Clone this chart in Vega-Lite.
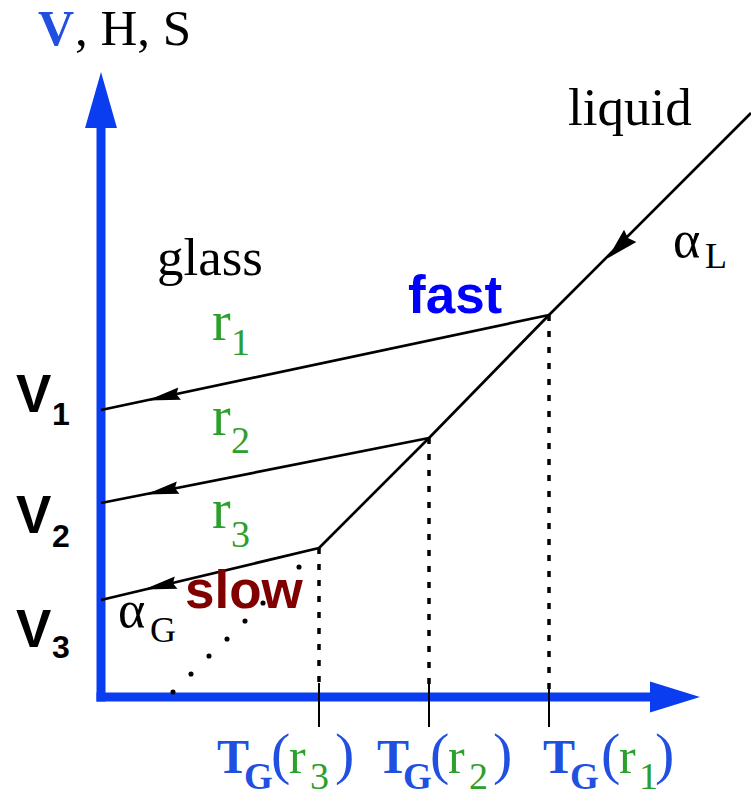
{
  "$schema": "https://vega.github.io/schema/vega-lite/v6.json",
  "width": 751,
  "height": 790,
  "padding": 0,
  "autosize": {"type": "none"},
  "background": "white",
  "config": {"view": {"stroke": null}},
  "encoding": {
    "x": {"field": "T", "type": "quantitative", "scale": {"domain": [-10.1, 65], "nice": false, "zero": false}, "axis": null},
    "y": {"field": "V", "type": "quantitative", "scale": {"domain": [-9.3, 69.7], "nice": false, "zero": false}, "axis": null}
  },
  "layer": [
    {
      "data": {"values": [
        {"axis": "volume", "T": 0, "V": -0.45, "T2": 0, "V2": 57.0},
        {"axis": "temperature", "T": -0.45, "V": 0, "T2": 55.0, "V2": 0}
      ]},
      "mark": {"type": "rule", "color": "#0b3df0", "strokeWidth": 9},
      "encoding": {"x2": {"field": "T2"}, "y2": {"field": "V2"}}
    },
    {
      "data": {"values": [{"axis": "volume", "T": 0, "V": 59.7}]},
      "mark": {"type": "point", "shape": "M 0 -1 L 0.57 1 L -0.57 1 Z", "size": 3136, "filled": true, "opacity": 1, "color": "#0b3df0"}
    },
    {
      "data": {"values": [{"axis": "temperature", "T": 57.4, "V": 0}]},
      "mark": {"type": "point", "shape": "M 1 0 L -1 -0.62 L -1 0.62 Z", "size": 2500, "filled": true, "opacity": 1, "color": "#0b3df0"}
    },
    {
      "data": {"values": [
        {"rate": "r3", "T": 21.8, "V": 1.4, "V2": -3.0},
        {"rate": "r2", "T": 32.8, "V": 1.4, "V2": -3.0},
        {"rate": "r1", "T": 44.8, "V": 1.4, "V2": -3.0}
      ]},
      "mark": {"type": "rule", "color": "black", "strokeWidth": 2},
      "encoding": {"y2": {"field": "V2"}}
    },
    {
      "data": {"values": [
        {"rate": "r3", "T": 21.8, "V": 14.9, "V2": 0.5},
        {"rate": "r2", "T": 32.8, "V": 25.9, "V2": 0.5},
        {"rate": "r1", "T": 44.8, "V": 38.2, "V2": 0.5}
      ]},
      "mark": {"type": "rule", "color": "black", "strokeWidth": 3.5, "strokeDash": [6, 10]},
      "encoding": {"y2": {"field": "V2"}}
    },
    {
      "data": {"values": [
        {"T": 7.2, "V": 0.5}, {"T": 9.0, "V": 2.3}, {"T": 10.8, "V": 4.1}, {"T": 12.6, "V": 5.8},
        {"T": 14.4, "V": 7.6}, {"T": 16.2, "V": 9.4}, {"T": 18.0, "V": 11.2}, {"T": 19.8, "V": 13.0}
      ]},
      "mark": {"type": "point", "shape": "circle", "size": 26, "filled": true, "opacity": 1, "color": "black"}
    },
    {
      "data": {"values": [
        {"path": "liquid", "T": 21.8, "V": 14.9},
        {"path": "liquid", "T": 32.8, "V": 25.9},
        {"path": "liquid", "T": 44.8, "V": 38.2},
        {"path": "liquid", "T": 65.0, "V": 58.4},
        {"path": "r1", "T": 0, "V": 28.7},
        {"path": "r1", "T": 44.8, "V": 38.2},
        {"path": "r2", "T": 0, "V": 19.4},
        {"path": "r2", "T": 32.8, "V": 25.9},
        {"path": "r3", "T": 0, "V": 9.7},
        {"path": "r3", "T": 21.8, "V": 14.9}
      ]},
      "mark": {"type": "line", "color": "black", "strokeWidth": 2.7},
      "encoding": {"detail": {"field": "path", "type": "nominal"}}
    },
    {
      "data": {"values": [
        {"path": "r1", "T": 6.25, "V": 30.0},
        {"path": "r2", "T": 6.1, "V": 20.6},
        {"path": "r3", "T": 5.9, "V": 11.1}
      ]},
      "mark": {"type": "point", "shape": "M -1 0 L 1 -0.38 L 0.8 0 L 1 0.38 Z", "size": 1089, "angle": -12.2, "filled": true, "opacity": 1, "color": "black"}
    },
    {
      "data": {"values": [{"path": "liquid", "T": 51.8, "V": 45.0}]},
      "mark": {"type": "point", "shape": "M -1 0 L 1 -0.55 L 0.8 0 L 1 0.55 Z", "size": 1000, "angle": -45, "filled": true, "opacity": 1, "color": "black"}
    },
    {
      "data": {"values": [
        {"T": -2.6, "V": 65.2, "txt": ", H, S", "ink": "label"}
      ]},
      "mark": {"type": "text", "font": "Liberation Serif", "fontSize": 51, "align": "left", "baseline": "alphabetic"},
      "encoding": {"text": {"field": "txt"}, "color": {"field": "ink", "type": "nominal", "scale": {"domain": ["label", "quantity", "rate", "fast", "slow"], "range": ["#000000", "#2150e0", "#2ca02c", "#0000ff", "#800000"]}, "legend": null}}
    },
    {
      "data": {"values": [
        {"T": 46.7, "V": 57.2, "txt": "liquid", "ink": "label"},
        {"T": 5.6, "V": 42.2, "txt": "glass", "ink": "label"}
      ]},
      "mark": {"type": "text", "font": "Liberation Serif", "fontSize": 53, "align": "left", "baseline": "alphabetic"},
      "encoding": {"text": {"field": "txt"}, "color": {"field": "ink", "type": "nominal", "legend": null}}
    },
    {
      "data": {"values": [
        {"T": 57.2, "V": 44.0, "txt": "α", "ink": "label"},
        {"T": 1.7, "V": 7.0, "txt": "α", "ink": "label"}
      ]},
      "mark": {"type": "text", "font": "Liberation Serif", "fontSize": 52, "align": "left", "baseline": "alphabetic"},
      "encoding": {"text": {"field": "txt"}, "color": {"field": "ink", "type": "nominal", "legend": null}}
    },
    {
      "data": {"values": [
        {"T": 60.4, "V": 42.9, "txt": "L", "ink": "label"},
        {"T": 4.9, "V": 5.5, "txt": "G", "ink": "label"}
      ]},
      "mark": {"type": "text", "font": "Liberation Serif", "fontSize": 36, "align": "left", "baseline": "alphabetic"},
      "encoding": {"text": {"field": "txt"}, "color": {"field": "ink", "type": "nominal", "legend": null}}
    },
    {
      "data": {"values": [
        {"T": -6.3, "V": 65.2, "txt": "V", "ink": "quantity"}
      ]},
      "mark": {"type": "text", "font": "Liberation Serif", "fontWeight": "bold", "fontSize": 50, "align": "left", "baseline": "alphabetic"},
      "encoding": {"text": {"field": "txt"}, "color": {"field": "ink", "type": "nominal", "legend": null}}
    },
    {
      "data": {"values": [
        {"T": 11.6, "V": -7.6, "txt": "T", "ink": "quantity"},
        {"T": 27.6, "V": -7.6, "txt": "T", "ink": "quantity"},
        {"T": 44.2, "V": -7.6, "txt": "T", "ink": "quantity"}
      ]},
      "mark": {"type": "text", "font": "Liberation Serif", "fontWeight": "bold", "fontSize": 48, "align": "left", "baseline": "alphabetic"},
      "encoding": {"text": {"field": "txt"}, "color": {"field": "ink", "type": "nominal", "legend": null}}
    },
    {
      "data": {"values": [
        {"T": 14.3, "V": -9.2, "txt": "G", "ink": "quantity"},
        {"T": 30.2, "V": -9.2, "txt": "G", "ink": "quantity"},
        {"T": 46.9, "V": -9.2, "txt": "G", "ink": "quantity"}
      ]},
      "mark": {"type": "text", "font": "Liberation Serif", "fontWeight": "bold", "fontSize": 37, "align": "left", "baseline": "alphabetic"},
      "encoding": {"text": {"field": "txt"}, "color": {"field": "ink", "type": "nominal", "legend": null}}
    },
    {
      "data": {"values": [
        {"T": 17.0, "V": -7.6, "txt": "(", "ink": "quantity"},
        {"T": 23.4, "V": -7.6, "txt": ")", "ink": "quantity"},
        {"T": 32.9, "V": -7.6, "txt": "(", "ink": "quantity"},
        {"T": 39.2, "V": -7.6, "txt": ")", "ink": "quantity"},
        {"T": 50.0, "V": -7.6, "txt": "(", "ink": "quantity"},
        {"T": 55.4, "V": -7.6, "txt": ")", "ink": "quantity"}
      ]},
      "mark": {"type": "text", "font": "Liberation Serif", "fontSize": 58, "align": "left", "baseline": "alphabetic"},
      "encoding": {"text": {"field": "txt"}, "color": {"field": "ink", "type": "nominal", "legend": null}}
    },
    {
      "data": {"values": [
        {"T": 18.8, "V": -7.6, "txt": "r", "ink": "rate"},
        {"T": 34.7, "V": -7.6, "txt": "r", "ink": "rate"},
        {"T": 51.8, "V": -7.6, "txt": "r", "ink": "rate"}
      ]},
      "mark": {"type": "text", "font": "Liberation Serif", "fontSize": 50, "align": "left", "baseline": "alphabetic"},
      "encoding": {"text": {"field": "txt"}, "color": {"field": "ink", "type": "nominal", "legend": null}}
    },
    {
      "data": {"values": [
        {"T": 11.1, "V": 35.7, "txt": "r", "ink": "rate"},
        {"T": 11.1, "V": 26.2, "txt": "r", "ink": "rate"},
        {"T": 11.1, "V": 16.9, "txt": "r", "ink": "rate"}
      ]},
      "mark": {"type": "text", "font": "Liberation Serif", "fontSize": 56, "align": "left", "baseline": "alphabetic"},
      "encoding": {"text": {"field": "txt"}, "color": {"field": "ink", "type": "nominal", "legend": null}}
    },
    {
      "data": {"values": [
        {"T": 13.0, "V": 34.2, "txt": "1", "ink": "rate"},
        {"T": 13.0, "V": 24.4, "txt": "2", "ink": "rate"},
        {"T": 13.0, "V": 15.0, "txt": "3", "ink": "rate"},
        {"T": 20.9, "V": -9.2, "txt": "3", "ink": "rate"},
        {"T": 36.8, "V": -9.2, "txt": "2", "ink": "rate"},
        {"T": 53.8, "V": -9.2, "txt": "1", "ink": "rate"}
      ]},
      "mark": {"type": "text", "font": "Liberation Serif", "fontSize": 38, "align": "left", "baseline": "alphabetic"},
      "encoding": {"text": {"field": "txt"}, "color": {"field": "ink", "type": "nominal", "legend": null}}
    },
    {
      "data": {"values": [
        {"T": -8.5, "V": 28.5, "txt": "V", "ink": "label"},
        {"T": -8.5, "V": 16.4, "txt": "V", "ink": "label"},
        {"T": -8.5, "V": 5.0, "txt": "V", "ink": "label"},
        {"T": 30.7, "V": 38.4, "txt": "fast", "ink": "fast"},
        {"T": 8.4, "V": 8.9, "txt": "slow", "ink": "slow"}
      ]},
      "mark": {"type": "text", "font": "Liberation Sans", "fontWeight": "bold", "fontSize": 53, "align": "left", "baseline": "alphabetic"},
      "encoding": {"text": {"field": "txt"}, "color": {"field": "ink", "type": "nominal", "legend": null}}
    },
    {
      "data": {"values": [
        {"T": -4.9, "V": 27.2, "txt": "1", "ink": "label"},
        {"T": -4.9, "V": 15.0, "txt": "2", "ink": "label"},
        {"T": -4.9, "V": 3.9, "txt": "3", "ink": "label"}
      ]},
      "mark": {"type": "text", "font": "Liberation Sans", "fontWeight": "bold", "fontSize": 32, "align": "left", "baseline": "alphabetic"},
      "encoding": {"text": {"field": "txt"}, "color": {"field": "ink", "type": "nominal", "legend": null}}
    }
  ]
}
